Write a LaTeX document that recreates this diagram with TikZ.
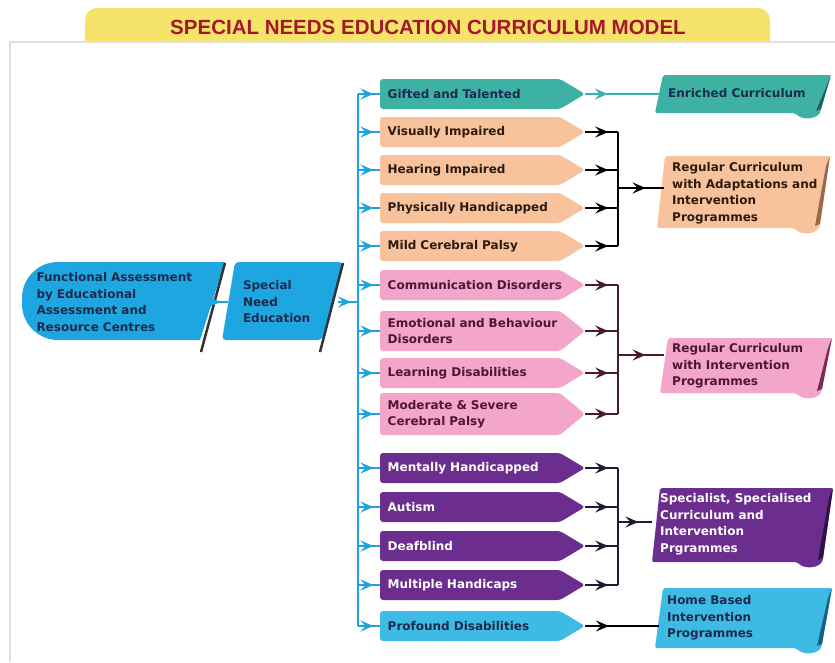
\documentclass[tikz,border=0pt]{standalone}
\usepackage{fontspec}
\newfontfamily\boxfont{DejaVu Sans}
\newfontfamily\titlefont{Liberation Sans}
\usetikzlibrary{arrows.meta,decorations.markings,positioning}

\definecolor{tabyellow}{HTML}{F6E46A}
\definecolor{titlered}{HTML}{A3182B}
\definecolor{leftblue}{HTML}{1EA6E0}
\definecolor{lineblue}{HTML}{1FA3DC}
\definecolor{tealbox}{HTML}{3DB2A4}
\definecolor{tealline}{HTML}{3AB0B0}
\definecolor{peachbox}{HTML}{F8C29C}
\definecolor{pinkbox}{HTML}{F3A6CA}
\definecolor{purplebox}{HTML}{6B2D8E}
\definecolor{cyanbox}{HTML}{3DBBE4}
\definecolor{navytext}{HTML}{1B2A4E}
\definecolor{peachtext}{HTML}{2B1B12}
\definecolor{pinktext}{HTML}{4E1534}
\definecolor{pinkline}{HTML}{4A1A30}
\definecolor{purpleline}{HTML}{1E1B3A}
\definecolor{tealshade}{HTML}{1F5F68}
\definecolor{peachshade}{HTML}{9A6A48}
\definecolor{pinkshade}{HTML}{7A2A55}
\definecolor{purpleshade}{HTML}{2E1145}
\definecolor{cyanshade}{HTML}{17607E}

\tikzset{
  midarrow/.style={postaction={decorate},decoration={markings,
      mark=at position #1 with {\arrow{Stealth[length=13pt,width=11pt,inset=5pt]}}}},
  midarrow/.default=0.55,
  trunkline/.style={line width=2pt,draw=lineblue},
  busline/.style={line width=2pt},
  boxfnt/.style={font=\boxfont\bfseries\fontsize{12}{16.5}\selectfont},
  rowtext/.style={boxfnt,anchor=west,minimum width=205pt,text width=190pt,
      inner xsep=6pt,inner ysep=0pt,align=left},
  outtext/.style={boxfnt,anchor=west,inner xsep=8pt,inner ysep=0pt,align=left}
}

% paper-like box with curled corner
\newcommand{\scrollbox}[6]{%
  \fill[#5,rounded corners=2pt] (#1+8,#2) -- (#3,#2) -- (#3-10,#4-4)
     .. controls (#3-12,#4+6) and (#3-28,#4+8) .. (#3-36,#4) -- (#1,#4) -- cycle;
  \fill[#6] (#3,#2) -- (#3-10,#4-4) -- (#3-15,#4-2) -- (#3-4,#2+10) -- cycle;
}

\begin{document}
\begin{tikzpicture}[x=1pt,y=-1pt]
  \useasboundingbox (0,0) rectangle (835,662);
  \fill[white] (0,0) rectangle (835,662);
  % title tab and panel
  \fill[tabyellow,rounded corners=12pt] (85,8) rectangle (770,60);
  \node[font=\titlefont\bfseries\fontsize{20.5}{24}\selectfont,text=titlered] (title) at (428,27)
    {SPECIAL NEEDS EDUCATION CURRICULUM MODEL};
  \fill[white] (10,42) rectangle (835,662);
  \draw[black!12,line width=2pt] (10,662) -- (10,42) -- (835,42);

  % left boxes
  \fill[leftblue] (225,262) [rounded corners=36pt] -- (22,262) -- (22,340) [sharp corners] -- (200,340) -- cycle;
  \draw[black!80,line width=2.5pt] (225,263) -- (201,352);
  \fill[leftblue,rounded corners=4pt] (235,262) -- (343,262) -- (322,340) -- (222,340) -- cycle;
  \draw[black!80,line width=2.5pt] (343,263) -- (320,352);
  \node[boxfnt,text=navytext,text width=165pt,minimum width=182pt,align=left,inner sep=0pt]
    (fa) at (119,302) {Functional Assessment\\by Educational\\Assessment and\\Resource Centres};
  \node[boxfnt,text=navytext,text width=80pt,minimum width=110pt,align=left,inner sep=0pt]
    (sne) at (283,302) {Special\\Need\\Education};
  \draw[trunkline,midarrow=0.6] (fa.east) -- (sne.west);

  % trunk and rows
  \coordinate (trunktop) at (358,94);
  \coordinate (trunkbot) at (358,626);
  \draw[trunkline] (trunktop) -- (trunkbot);
  \draw[trunkline,midarrow=0.65] (sne.east) -- (sne.east -| trunktop);
  \foreach \n/\y/\h/\fc/\tc/\txt in {
      gt/94/30/tealbox/navytext/{Gifted and Talented},
      vi/132/30/peachbox/peachtext/{Visually Impaired},
      hi/170/30/peachbox/peachtext/{Hearing Impaired},
      ph/208/30/peachbox/peachtext/{Physically Handicapped},
      mc/246/30/peachbox/peachtext/{Mild Cerebral Palsy},
      cd/285/30/pinkbox/pinktext/{Communication Disorders},
      eb/331/40/pinkbox/pinktext/{Emotional and Behaviour\\Disorders},
      ld/373/30/pinkbox/pinktext/{Learning Disabilities},
      ms/414/42/pinkbox/pinktext/{Moderate \& Severe\\Cerebral Palsy},
      mh/468/30/purplebox/white/{Mentally Handicapped},
      au/507/30/purplebox/white/{Autism},
      db/546/30/purplebox/white/{Deafblind},
      mu/585/30/purplebox/white/{Multiple Handicaps},
      pd/626/30/cyanbox/navytext/{Profound Disabilities}}{
    \fill[\fc,rounded corners=3pt] (380,\y-\h/2) -- (560,\y-\h/2) -- (585,\y)
       -- (560,\y+\h/2) -- (380,\y+\h/2) -- cycle;
    \node[rowtext,text=\tc] (\n) at (380,\y) {\txt};
    \draw[trunkline,midarrow=0.7] (\n.west -| trunktop) -- (\n.west);
  }

  % outcome boxes
  \scrollbox{655}{75}{831}{113}{tealbox}{tealshade}
  \node[outtext,text=navytext] (en) at (660,93) {Enriched Curriculum};
  \scrollbox{657}{156}{830}{228}{peachbox}{peachshade}
  \node[outtext,text=peachtext] (ra) at (664,193)
    {Regular Curriculum\\with Adaptations and\\Intervention\\Programmes};
  \scrollbox{660}{338}{832}{393}{pinkbox}{pinkshade}
  \node[outtext,text=pinktext] (ri) at (664,366)
    {Regular Curriculum\\with Intervention\\Programmes};
  \scrollbox{652}{488}{833}{562}{purplebox}{purpleshade}
  \node[outtext,text=white] (sp) at (652,524)
    {Specialist, Specialised\\Curriculum and\\Intervention\\Prgrammes};
  \scrollbox{655}{588}{832}{648}{cyanbox}{cyanshade}
  \node[outtext,text=navytext] (hb) at (659,618)
    {Home Based\\Intervention\\Programmes};

  % connectors to outcomes
  \draw[busline,draw=tealline,midarrow=0.3] (gt.east) -- (gt.east -| en.west);
  \coordinate (busA) at (618,188);
  \foreach \n in {vi,hi,ph,mc} \draw[busline,midarrow=0.7] (\n.east) -- (\n.east -| busA);
  \draw[busline] (vi.east -| busA) -- (mc.east -| busA);
  \draw[busline,midarrow=0.6] (busA) -- (busA -| ra.west);
  \coordinate (busB) at (618,355);
  \foreach \n in {cd,eb,ld,ms} \draw[busline,draw=pinkline,midarrow=0.7] (\n.east) -- (\n.east -| busB);
  \draw[busline,draw=pinkline] (cd.east -| busB) -- (ms.east -| busB);
  \draw[busline,draw=pinkline,midarrow=0.6] (busB) -- (busB -| ri.west);
  \coordinate (busC) at (618,522);
  \foreach \n in {mh,au,db,mu} \draw[busline,draw=purpleline,midarrow=0.7] (\n.east) -- (\n.east -| busC);
  \draw[busline,draw=purpleline] (mh.east -| busC) -- (mu.east -| busC);
  \draw[busline,draw=purpleline,midarrow=0.6] (busC) -- (busC -| sp.west);
  \draw[busline,midarrow=0.32] (pd.east) -- (pd.east -| hb.west);
\end{tikzpicture}
\end{document}
